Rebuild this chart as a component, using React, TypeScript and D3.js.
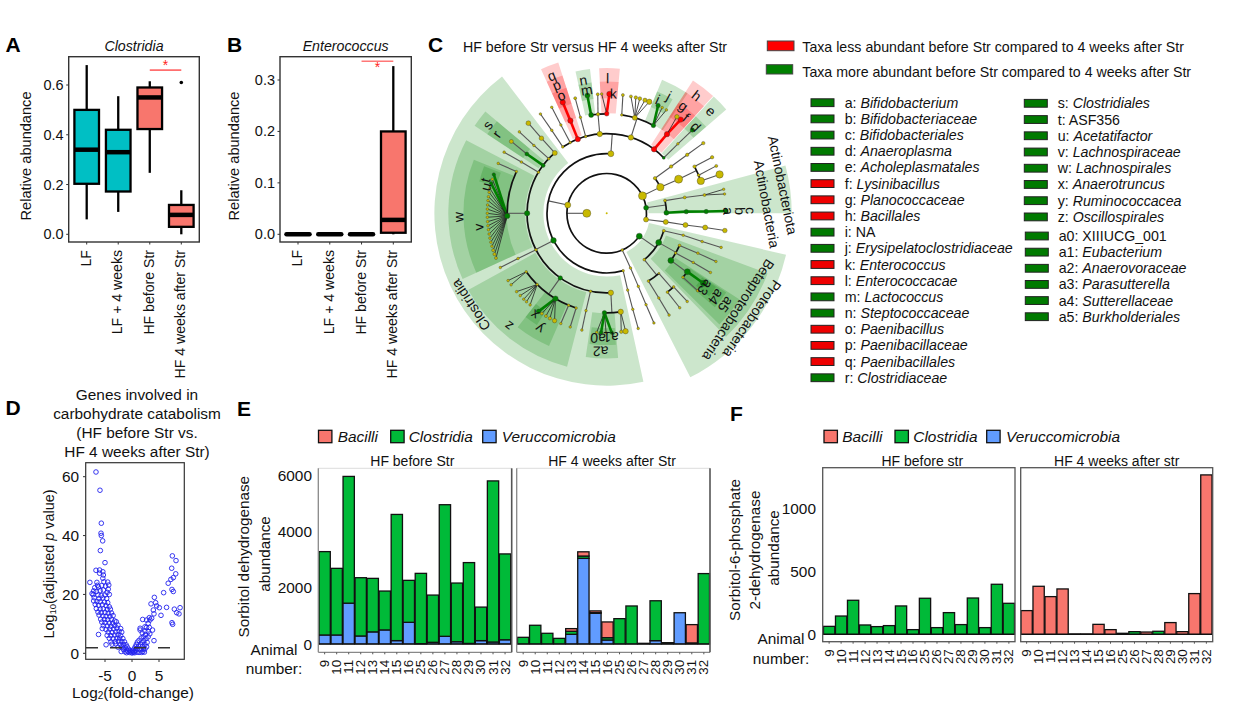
import * as d3 from "d3";

const FONT = "'Liberation Sans', Arial, sans-serif";
const SALMON = "#F8766D";
const TEAL = "#00BFC4";
const GREEN = "#00BA38";
const BLUE = "#619CFF";

// panels A and B
const boxGroups = ["LF", "LF + 4 weeks", "HF before Str", "HF 4 weeks after Str"];
const boxColors = [TEAL, TEAL, SALMON, SALMON];
// low, q1, median, q3, high
const clostridiaBoxes = [
  [0.06, 0.203, 0.34, 0.5, 0.68],
  [0.09, 0.172, 0.33, 0.42, 0.555],
  [0.247, 0.423, 0.55, 0.59, 0.615],
  [0.0, 0.03, 0.078, 0.118, 0.177],
];
const clostridiaOutliers = [[3, 0.61]];
const enterococcusBoxes = [
  [0, 0, 0, 0, 0],
  [0, 0, 0, 0, 0],
  [0, 0, 0, 0, 0],
  [0, 0.003, 0.028, 0.2, 0.327],
];

// panel D: log2 fold change, -log10 adjusted p
const volcanoPoints = [
  [-6.67, 61.6], [-5.93, 55.4], [-5.68, 44.2], [-5.74, 40.8], [-5.68, 40], [-5.43, 38.2], [-5.86, 34.9], [-5, 30.8],
  [-6.67, 28.2], [-6, 28.3], [-5.4, 27.7], [-6, 27.2], [-5.3, 26.6], [-7.8, 24.1], [-6.5, 24.1], [-5.4, 25.5],
  [-5.2, 24.3], [-4.5, 24.2], [-6.4, 23.1], [-4.3, 23.2], [-6.9, 22.3], [-6.2, 22.5], [-5.6, 23], [-4.9, 22.8],
  [-4.4, 21.8], [-7.1, 21.2], [-6.6, 21], [-5.9, 21.3], [-5.3, 21.5], [-4.6, 20.7], [-7.4, 20.3], [-7.2, 19.9],
  [-6.3, 19.8], [-5.7, 19.6], [-5, 19.8], [-4.2, 20], [-7, 18.9], [-6.1, 18.6], [-5.4, 18.8], [-4.7, 18.6],
  [-7.1, 17.8], [-6.5, 17.6], [-5.9, 17.5], [-5.1, 17.4], [-4.5, 17.2], [-6.8, 16.6], [-6.2, 16.3], [-5.5, 16.5],
  [-4.8, 16.2], [-4.2, 15.8], [-6.6, 15.2], [-5.9, 15], [-5.3, 15.1], [-4.6, 14.9], [-4, 15], [-6.3, 14],
  [-5.7, 13.8], [-5, 13.9], [-4.4, 13.6], [-3.8, 13.7], [-6.1, 13], [-5.4, 12.7], [-4.8, 12.6], [-4.1, 12.5],
  [-3.5, 12.8], [-5.8, 11.6], [-5.1, 11.5], [-4.5, 11.4], [-3.8, 11.6], [-3.2, 11], [-5.6, 10.6], [-5, 10.4],
  [-4.2, 10.3], [-3.6, 10.2], [-2.9, 10.7], [-5.3, 9.4], [-4.6, 9.3], [-3.9, 9.2], [-3.2, 9.4], [-2.6, 9.6],
  [-5.5, 8.4], [-4.8, 8.1], [-4.1, 8.2], [-3.4, 8.3], [-2.8, 8.6], [-2.1, 8.4], [-4.4, 7.2], [-3.7, 7.1],
  [-3, 7.3], [-2.4, 7.5], [-1.9, 7.2], [-6.2, 6.4], [-4.6, 6.1], [-3.9, 6], [-3.2, 6.2], [-2.6, 6.3],
  [-2.1, 6], [-4.2, 5.1], [-3.5, 5], [-2.8, 5.1], [-2.3, 5.2], [-1.7, 5], [-4.8, 2.9], [-3.9, 3.9],
  [-3.1, 4], [-2.5, 4.1], [-1.9, 4], [-1.4, 3.9], [-3.7, 3.1], [-3, 3.2], [-2.2, 3], [-1.6, 3],
  [-1.1, 2.9], [-2.6, 2.1], [-1.9, 2.2], [-1.3, 2], [-0.9, 2.2], [-1.6, 1.3], [-1, 1.2], [-0.6, 1.4],
  [-2, 0.6], [-1.3, 0.5], [-0.8, 0.7], [-0.4, 0.9], [-1, 0.2], [-0.5, 0.3], [-0.2, 0.5],
  [0, 0.1], [0.2, 0.3], [0.4, 0.6], [0.1, 0.9], [0.5, 0.2], [0.7, 1], [0.4, 1.5], [0.9, 0.4],
  [1, 1.6], [0.6, 2.2], [1.3, 0.3], [1.2, 2.4], [0.8, 3], [1.5, 1.2], [1.8, 0.3], [1.6, 2.9],
  [1, 3.8], [1.3, 4.4], [2, 0.6], [2.1, 1.4], [2, 2.4], [1.9, 3.6], [1.7, 5.2], [2.3, 0.4],
  [2.4, 1.5], [2.4, 3], [2.2, 4.3], [2.1, 5.6], [1.9, 6.9], [1.5, 7.9], [2.7, 2.2], [2.8, 3.7],
  [2.6, 5], [2.5, 6.3], [2.4, 7.5], [3, 5.6], [3, 7.4], [3.3, 6.6], [2.7, 8.8], [3.8, 7.9],
  [4.07, 4.3], [3.2, 8.8], [3, 10.2], [3.33, 11.3], [3.64, 11.9], [2.7, 11.3], [1.98, 11.5], [2.4, 9],
  [1.5, 8.5], [3.2, 12.1], [4.07, 13.4], [3.95, 14.7], [4.57, 16.1], [3.52, 16.8], [4.38, 17.2], [4.14, 19],
  [5.06, 15.5], [5.37, 12.9], [6.4, 15.6], [5.86, 20.6], [7.4, 21.7], [7.65, 21], [6.7, 23.8], [7.2, 25.1],
  [7.65, 25.7], [8.1, 27], [7.35, 28.9], [8.15, 31.5], [7.47, 33.1], [8.9, 15.5], [7.84, 15], [8.27, 13.8],
  [8.7, 13.4], [7.4, 10.4], [7.53, 9.85],
];

// panels E and F
const animals = ["9", "10", "11", "12", "13", "14", "15", "16", "25", "26", "27", "28", "29", "30", "31", "32"];
const sorbitolBeforeVeru = [320, 320, 1450, 285, 430, 500, 120, 770, 10, 60, 273, 80, 20, 120, 70, 150];
const sorbitolBeforeClost = [2960, 2366, 4500, 2069, 1900, 1380, 4480, 1490, 2498, 1677, 4672, 2084, 2870, 1190, 5720, 3048];
const sorbitolBeforeBacilli = [0, 0, 0, 0, 0, 0, 0, 0, 0, 0, 0, 0, 0, 0, 0, 0];
const sorbitolAfterVeru = [0, 0, 0, 0, 344, 3040, 1092, 142, 0, 0, 0, 119, 0, 1110, 0, 0];
const sorbitolAfterClost = [237, 665, 380, 200, 107, 83, 20, 83, 900, 1350, 24, 1416, 47, 0, 38, 2500];
const sorbitolAfterBacilli = [0, 0, 0, 0, 95, 150, 63, 558, 0, 0, 0, 0, 0, 0, 650, 0];
const s6pBeforeClost = [63, 145, 270, 74, 61, 69, 225, 37, 286, 53, 172, 77, 288, 53, 397, 246];
const s6pBeforeBacilli = [0, 0, 0, 0, 0, 0, 0, 0, 0, 0, 0, 0, 0, 0, 0, 0];
const s6pAfterClost = [0, 0, 0, 0, 0, 0, 0, 0, 0, 21, 0, 24, 0, 0, 0, 0];
const s6pAfterBacilli = [188, 381, 299, 360, 3, 3, 79, 37, 8, 0, 18, 0, 93, 21, 323, 1265];
const noVeru = [0, 0, 0, 0, 0, 0, 0, 0, 0, 0, 0, 0, 0, 0, 0, 0];

// panel C keys
const keyLeft = [
  ["a: ", "Bifidobacterium", "g"], ["b: ", "Bifidobacteriaceae", "g"], ["c: ", "Bifidobacteriales", "g"],
  ["d: ", "Anaeroplasma", "g"], ["e: ", "Acholeplasmatales", "g"], ["f: ", "Lysinibacillus", "r"],
  ["g: ", "Planococcaceae", "r"], ["h: ", "Bacillales", "r"], ["i: NA", "", "g"],
  ["j: ", "Erysipelatoclostridiaceae", "g"], ["k: ", "Enterococcus", "r"], ["l: ", "Enterococcacae", "r"],
  ["m: ", "Lactococcus", "g"], ["n: ", "Steptococcaceae", "g"], ["o: ", "Paenibacillus", "r"],
  ["p: ", "Paenibacillaceae", "r"], ["q: ", "Paenibacillales", "r"], ["r: ", "Clostridiaceae", "g"],
];
const keyRightTop = [
  ["s: ", "Clostridiales"], ["t: ASF356", ""], ["u: ", "Acetatifactor"], ["v: ", "Lachnospiraceae"],
  ["w: ", "Lachnospirales"], ["x: ", "Anaerotruncus"], ["y: ", "Ruminococcacea"], ["z: ", "Oscillospirales"],
];
const keyRightBottom = [
  ["a0: XIIIUCG_001", ""], ["a1: ", "Eubacterium"], ["a2: ", "Anaerovoraceae"],
  ["a3: ", "Parasutterella"], ["a4: ", "Sutterellaceae"], ["a5: ", "Burkholderiales"],
];

// cladogram wedges: start deg, end deg, inner level, outer level, colour
const cladeWedges = [
  [167.7, 322.6, 3.18, 8.66, "g"], [245.5, 297.5, 4.1, 7.96, "g"], [245.5, 292, 5.03, 7.2, "g"], [284, 291, 5.7, 6.6, "g"],
  [303.5, 310, 4.1, 7.96, "g"], [303.5, 310, 5.03, 7.2, "g"], [194.5, 241, 4.1, 7.96, "g"], [203.5, 218, 5.03, 7.27, "g"],
  [212, 218, 5.78, 6.62, "g"], [175.5, 188.3, 5.03, 7.3, "g"], [176, 182, 5.78, 6.62, "g"], [182, 187.5, 5.78, 6.62, "g"],
  [103, 153, 2.18, 9.25, "g"], [110.5, 136, 3.18, 8.63, "g"], [123, 134.6, 4.1, 7.96, "g"], [123.5, 131, 5.03, 7.2, "g"],
  [124, 129, 5.78, 6.62, "g"], [75, 90, 2.1, 9.3, "g"], [347.6, 353.4, 5.03, 7.3, "g"], [347.6, 353.4, 5.78, 6.62, "g"],
  [22.5, 34, 5.03, 7.27, "g"], [22.5, 30, 5.78, 6.62, "g"], [42.5, 49, 4.1, 7.96, "g"], [42.5, 49, 5.78, 6.62, "g"],
  [335.5, 342.2, 4.1, 7.96, "r"], [335.5, 342.2, 5.03, 7.27, "r"], [335.5, 342.2, 5.78, 6.62, "r"],
  [357, 365.2, 5.03, 7.3, "r"], [357, 365.2, 5.78, 6.62, "r"],
  [33, 42.2, 4.1, 7.96, "r"], [33, 42.2, 5.03, 7.27, "r"], [33, 42.2, 5.78, 6.62, "r"],
];

// cladogram nodes: id, parent, level, angle deg, dot radius, colour, thick link
const cladeNodes: [string, string, number, number, number, string, number?][] = [
  ["K", "", 1, 270, 4, "y"],
  ["a64", "K", 2, 424, 4, "y"],
  ["a54", "a64", 3, 414, 1.7, "y"], ["a54b", "a54", 4, 414, 1.7, "y"], ["a54c", "a54b", 5, 414, 1.7, "y"], ["a54d", "a54c", 6, 414, 1.7, "y"],
  ["a63", "a64", 3, 424, 3.7, "y"], ["a65", "a63", 4, 424.6, 4, "y"],
  ["a66", "a65", 5, 422, 1.7, "y"], ["a66l", "a66", 6, 422, 1.7, "y"],
  ["a67", "a65", 5, 427.5, 1.4, "y"], ["a67l", "a67", 6, 426.6, 1.5, "y"],
  ["a71", "a65", 5, 431, 3.7, "y"], ["a71l", "a71", 6, 431, 3.7, "y"],
  ["g82", "K", 2, 442, 2.5, "g"],
  ["g77", "g82", 3, 437.7, 1.5, "y"], ["g78", "g77", 4, 438.5, 1.5, "y"], ["g79", "g78", 5, 439.4, 1.5, "y"],
  ["g79a", "g79", 6, 438.4, 1.3, "y"], ["g79b", "g79", 6, 440.7, 1.3, "y"],
  ["c", "g82", 3, 449.4, 2.5, "g", 1], ["b", "c", 4, 448.8, 2.2, "g", 1], ["b5", "b", 5, 449, 2.2, "g", 1], ["a", "b5", 6, 448.9, 2.2, "g", 1],
  ["y99", "K", 2, 459, 2.5, "y"], ["y99b", "y99", 3, 458.3, 2.5, "y"], ["y99c", "y99b", 4, 458.4, 2.5, "y"], ["y99d", "y99c", 5, 458.2, 2.5, "y"], ["y99e", "y99d", 6, 458.3, 2.3, "y"],
  ["p125", "K", 2, 125, 3, "g"],
  ["p107", "p125", 3, 107, 1.5, "y"], ["p107b", "p107", 4, 106, 1.3, "y"], ["p107c", "p107b", 5, 106.5, 1.3, "y"], ["p107d", "p107c", 6, 106.6, 1.3, "y"],
  ["b119", "p125", 3, 119.4, 3, "g"],
  ["b114", "b119", 4, 113.8, 1.4, "y"], ["b114b", "b114", 5, 113.6, 1.3, "y"], ["b114c", "b114b", 6, 113.8, 1.3, "y"],
  ["b120", "b119", 4, 120, 1.3, "y"], ["b120b", "b120", 5, 119.6, 1.3, "y"], ["b120c", "b120b", 6, 119.7, 1.3, "y"],
  ["b126", "b119", 4, 126.3, 3, "g"], ["s126", "b126", 5, 125.9, 3, "g"], ["a3n", "s126", 6, 125.9, 3, "g", 1],
  ["s130", "b126", 5, 130, 1.3, "y"], ["s130b", "s130", 6, 130.4, 1.3, "y"],
  ["p141", "p125", 3, 141, 1.4, "y"],
  ["p139", "p141", 4, 139, 1, "y"], ["p138", "p139", 5, 137.7, 1.3, "y"], ["p138b", "p138", 6, 137.6, 1.3, "y"], ["p142", "p139", 5, 142.4, 1.3, "y"], ["p142b", "p142", 6, 142.3, 1.3, "y"],
  ["p148", "p141", 4, 148.4, 1.3, "y"], ["p148b", "p148", 5, 148.4, 1.3, "y"], ["p148c", "p148b", 6, 148.5, 1.3, "y"],
  ["l157", "K", 2, 157, 1.3, "y"], ["l157b", "l157", 3, 156.5, 1.3, "y"], ["l157c", "l157b", 4, 156.6, 1.3, "y"], ["l157d", "l157c", 5, 156.7, 1.3, "y"], ["l157e", "l157d", 6, 156.7, 1.3, "y"],
  ["n282", "K", 2, 282, 3, "y"],
  ["c164", "n282", 3, 164, 1.3, "y"], ["c164b", "c164", 4, 164.7, 1.3, "y"], ["c164c", "c164b", 5, 164.8, 1.3, "y"], ["c164d", "c164c", 6, 164.7, 1.3, "y"],
  ["clo", "n282", 3, 243, 2.8, "g"],
  ["c177", "clo", 4, 177, 2.7, "y"],
  ["c181", "c177", 5, 181.3, 2.3, "g"], ["l185", "c181", 6, 184.8, 1.3, "y"], ["a0n", "c181", 6, 182.7, 1.8, "g", 1], ["l180", "c181", 6, 180.3, 1.3, "y"], ["a1n", "c181", 6, 177.6, 1.8, "g", 1],
  ["c172", "c177", 5, 171.9, 2.7, "y"], ["l173", "c172", 6, 173, 1.7, "y"], ["l171", "c172", 6, 170.9, 2.7, "y"],
  ["c192", "clo", 4, 191.7, 1.3, "y"], ["c192b", "c192", 5, 192, 1.3, "y"], ["c192c", "c192b", 6, 192, 1.3, "y"],
  ["c216", "clo", 4, 215.7, 2.3, "g"],
  ["c234", "c216", 5, 234, 1.3, "y"], ["l236", "c234", 6, 235.7, 1.3, "y"], ["l233", "c234", 6, 233.2, 1.3, "y"],
  ["c224", "c216", 5, 224.3, 1.3, "y"], ["l229", "c224", 6, 229, 1.3, "y"], ["l226", "c224", 6, 226.4, 1.3, "y"], ["l224", "c224", 6, 224, 1.3, "y"], ["l222", "c224", 6, 222.2, 1.3, "y"], ["l220", "c224", 6, 219.9, 1.3, "y"],
  ["c211", "c216", 5, 211, 2.7, "g"], ["xn", "c211", 6, 214.8, 2.3, "g", 1], ["l213", "c211", 6, 212.9, 1.5, "y"], ["l211", "c211", 6, 210.6, 1.5, "y"], ["l208", "c211", 6, 208.4, 1.7, "y"], ["l206", "c211", 6, 205.9, 2.2, "y"],
  ["c202", "c216", 5, 202.5, 1.3, "y"], ["c202b", "c202", 6, 202.6, 1.3, "y"],
  ["c198", "c216", 5, 197.9, 1.3, "y"], ["c198b", "c198", 6, 197.8, 1.3, "y"],
  ["c243", "clo", 4, 242.7, 1.4, "y"], ["c243b", "c243", 5, 243, 1.3, "y"], ["c243c", "c243b", 6, 243, 1.3, "y"],
  ["c270", "clo", 4, 270, 2.7, "g"], ["vn", "c270", 5, 268.5, 2.7, "g"],
  ["tn", "vn", 6, 289, 1.7, "g", 1], ["f287", "vn", 6, 286.6, 1.3, "y"], ["un", "vn", 6, 284.6, 1.7, "g", 1],
  ["f282", "vn", 6, 282, 1.3, "y"], ["f280", "vn", 6, 280.1, 1.3, "y"], ["f278", "vn", 6, 278, 1.3, "y"], ["f276", "vn", 6, 276.1, 1.3, "y"],
  ["f274", "vn", 6, 274, 1.3, "y"], ["f272", "vn", 6, 272, 1.3, "y"], ["f270", "vn", 6, 270, 1.3, "y"], ["f268", "vn", 6, 268.1, 1.3, "y"],
  ["f266", "vn", 6, 266, 1.3, "y"], ["f264", "vn", 6, 264, 1.3, "y"], ["f262", "vn", 6, 262.1, 1.3, "y"], ["f260", "vn", 6, 260, 1.3, "y"],
  ["f258", "vn", 6, 258, 1.3, "y"], ["f256", "vn", 6, 256, 1.3, "y"], ["f254", "vn", 6, 254, 1.3, "y"], ["f252", "vn", 6, 252, 1.5, "y"],
  ["f250", "vn", 6, 250, 1.6, "y"], ["f248", "vn", 6, 248, 1.5, "y"],
  ["c295", "c270", 5, 294.8, 1.3, "y"], ["c295b", "c295", 6, 294.7, 1.3, "y"],
  ["c301", "clo", 4, 301, 1.3, "y"], ["c301b", "c301", 5, 301, 1.3, "y"], ["c301c", "c301b", 6, 300.8, 1.3, "y"],
  ["sn", "clo", 4, 307, 2, "g"], ["rn", "sn", 5, 306.6, 2, "g", 1], ["rl", "rn", 6, 307, 2, "y"],
  ["c313", "clo", 4, 313.3, 1.3, "y"], ["c313b", "c313", 5, 313, 1.3, "y"], ["c313c", "c313b", 6, 313, 1.3, "y"],
  ["c319", "clo", 4, 319.3, 2.5, "y"], ["c319b", "c319", 5, 319, 2.3, "y"], ["c319c", "c319b", 6, 319, 2.4, "y"],
  ["h364", "n282", 3, 364, 3, "y"],
  ["t326", "h364", 4, 326.5, 1.3, "y"], ["t326b", "t326", 5, 326.5, 1.3, "y"], ["t326c", "t326b", 6, 326.3, 1.3, "y"],
  ["t333", "h364", 4, 332.7, 1.3, "y"], ["t333b", "t333", 5, 332.6, 1.3, "y"], ["t333c", "t333b", 6, 332.6, 1.3, "y"],
  ["qn", "h364", 4, 338.7, 2.7, "r"], ["pn", "qn", 5, 338.6, 2.7, "r", 1], ["on", "pn", 6, 338.4, 2.7, "r", 1],
  ["t345", "h364", 4, 344.7, 1.3, "y"], ["t345b", "t345", 5, 344.7, 1.3, "y"], ["t345c", "t345b", 6, 344.7, 1.5, "y"],
  ["t355", "h364", 4, 355, 2.7, "y"],
  ["nn", "t355", 5, 351, 2.5, "g"], ["mn", "nn", 6, 350.7, 2.5, "g", 1],
  ["t355b", "t355", 5, 355, 1.7, "y"], ["t355c", "t355b", 6, 355.7, 1.5, "y"],
  ["ln", "t355", 5, 360, 2.3, "r"], ["kn", "ln", 6, 361.3, 2.7, "r", 1], ["lb", "ln", 6, 357.6, 1.3, "y"],
  ["t378", "h364", 4, 377.7, 2.7, "y"],
  ["t369", "t378", 5, 368.7, 1.3, "y"], ["t369b", "t369", 6, 367.8, 1.5, "y"],
  ["t376", "t378", 5, 376.4, 2.5, "y"], ["l372", "t376", 6, 371.7, 1.5, "y"], ["l374", "t376", 6, 374.1, 1.7, "y"], ["l376", "t376", 6, 376.1, 1.9, "y"], ["l379", "t376", 6, 378.7, 2.1, "y"], ["l381", "t376", 6, 380.9, 2.7, "y"],
  ["jn", "t378", 5, 388, 2.3, "g"], ["in", "jn", 6, 385.5, 2.2, "g", 1], ["l388", "jn", 6, 387.7, 1.3, "y"], ["l390", "jn", 6, 390, 1.3, "y"],
  ["hn", "h364", 4, 396.5, 2.7, "r"], ["gn", "hn", 5, 397.3, 2.7, "r", 1], ["fn", "gn", 6, 398.3, 2.7, "r", 1], ["gb", "gn", 6, 396, 2.2, "y"],
  ["en", "h364", 4, 405.8, 1.5, "g"], ["e5", "en", 5, 405.7, 1.3, "y"], ["dn", "e5", 6, 405.8, 2.2, "g"],
];
const fanParents = ["g79", "c181", "c172", "c234", "c224", "c211", "vn", "t376", "jn", "ln", "gn"];

// cladogram labels: text, level position, angle, rotation
const cladeLabels: [string, number, number, number][] = [
  ["a", 6.11, 89, 89], ["b", 6.7, 89, 89], ["c", 7.24, 89, 89], ["d", 6.25, 45.8, 45.8], ["e", 7.34, 45.6, 45.6],
  ["f", 6.26, 39.6, 38], ["g", 6.63, 35.5, 37], ["h", 7.44, 37.4, 37.4], ["i", 6.28, 24.1, 24.1], ["j", 6.68, 27.9, 27.9],
  ["k", 6.03, 3.2, 1], ["l", 6.78, 0.4, 0.4], ["m", 6.28, -9.2, -9.2], ["n", 6.8, -10, -10], ["o", 6.35, -21.2, -21.2],
  ["p", 6.92, -21.3, -21.3], ["q", 7.45, -21.8, -21.8], ["r", 6.82, 305.8, 305.8], ["s", 7.45, 306.6, 306.6],
  ["t", 6.33, 285.3, 285.3], ["u", 6.23, 282.4, 285.3], ["v", 6.48, 263.8, 268], ["w", 7.45, 268.5, 268.5],
  ["x", 6.26, 215.4, 214], ["y", 6.72, 210.2, 212], ["z", 7.52, 221, 217],
  ["a0", 6.3, 184, 182], ["a1", 6.23, 178, 180], ["a2", 6.95, 182.5, 181],
  ["a3", 6.2, 127, 127], ["a4", 6.92, 127.4, 127], ["a5", 7.54, 127.5, 127],
  ["Clostridia", 8.24, 236, 236], ["Actinobacteriota", 8.96, 80.9, 78.5], ["Actinobacteria", 8.06, 86.7, 79.5],
  ["Proteobacteria", 9.03, 126, 124.8], ["Betaproteobacteria", 8.21, 126.3, 123.4],
];

const T = ({ x, y, size = 14, anchor = "middle", rotate, weight, italic, children }: any) => (
  <text
    x={x}
    y={y}
    fontSize={size}
    textAnchor={anchor}
    dominantBaseline="central"
    fontFamily={FONT}
    fontWeight={weight}
    fontStyle={italic ? "italic" : undefined}
    fill="#111"
    transform={rotate !== undefined ? `rotate(${rotate} ${x} ${y})` : undefined}
  >
    {children}
  </text>
);

const PanelLetter = ({ x, y, children }: any) => (
  <text x={x} y={y} fontSize={21} fontWeight="bold" fontFamily={FONT} fill="#000">
    {children}
  </text>
);

const BoxPanel = ({ left, right, title, boxes, outliers = [], yMax, y0, yTop, ticks, labelX, sig }: any) => {
  const top = 56.7;
  const bottom = 242;
  const x = d3.scalePoint<string>().domain(boxGroups).range([left + 18, right - 18]);
  const y = d3.scaleLinear().domain([0, yMax]).range([y0, yTop]);
  return (
    <g>
      <T x={(left + right) / 2} y={46} size={14.2} italic>{title}</T>
      {boxes.map((b: number[], i: number) => {
        const cx = x(boxGroups[i]) as number;
        const flat = b[4] === 0;
        return (
          <g key={i}>
            {flat ? (
              <line x1={cx - 11.5} x2={cx + 11.5} y1={y(0)} y2={y(0)} stroke="#000" strokeWidth={4.5} strokeLinecap="round" />
            ) : (
              <>
                <line x1={cx} x2={cx} y1={y(b[0])} y2={y(b[4])} stroke="#000" strokeWidth={2.3} />
                <rect x={cx - 12.3} width={24.6} y={y(b[3])} height={y(b[1]) - y(b[3])} fill={boxColors[i]} stroke="#000" strokeWidth={2.3} />
                <line x1={cx - 12.3} x2={cx + 12.3} y1={y(b[2])} y2={y(b[2])} stroke="#000" strokeWidth={4.5} />
              </>
            )}
          </g>
        );
      })}
      {outliers.map(([i, v]: number[]) => (
        <circle key={i} cx={x(boxGroups[i])} cy={y(v)} r={1.8} fill="#000" />
      ))}
      <line x1={x(boxGroups[2])} x2={x(boxGroups[3])} y1={y(sig.line)} y2={y(sig.line)} stroke={sig.color} strokeWidth={sig.width} />
      <T x={((x(boxGroups[2]) as number) + (x(boxGroups[3]) as number)) / 2} y={y(sig.star)} size={14} ><tspan fill="#f22">*</tspan></T>
      <rect x={left} y={top} width={right - left} height={bottom - top} fill="none" stroke="#333" strokeWidth={1.4} />
      {ticks.map((t: number) => (
        <g key={t}>
          <line x1={left - 2.5} x2={left} y1={y(t)} y2={y(t)} stroke="#333" />
          <T x={left - 5} y={y(t)} size={14.5} anchor="end">{t.toFixed(1)}</T>
        </g>
      ))}
      {boxGroups.map((g) => (
        <g key={g}>
          <line x1={x(g)} x2={x(g)} y1={bottom} y2={bottom + 2.5} stroke="#333" />
          <T x={(x(g) as number) - 1} y={bottom + 8} size={14.1} anchor="end" rotate={-90}>{g}</T>
        </g>
      ))}
      <T x={labelX} y={156} size={14.6} rotate={-90}>Relative abundance</T>
    </g>
  );
};

const Volcano = () => {
  const x = d3.scaleLinear().domain([-5, 5]).range([105, 159]);
  const y = d3.scaleLinear().domain([0, 60]).range([653.3, 476.7]);
  return (
    <g>
      {["Genes involved in", "carbohydrate catabolism", "(HF before Str vs.", "HF 4 weeks after Str)"].map((s, i) => (
        <T key={s} x={137} y={[394, 413, 432.5, 451][i]} size={15.4}>{s}</T>
      ))}
      {volcanoPoints.map((p, i) => (
        <circle key={i} cx={x(p[0])} cy={y(p[1])} r={2.3} fill="none" stroke="#2222ee" strokeWidth={0.9} />
      ))}
      <line x1={86} x2={172.5} y1={y(1.9)} y2={y(1.9)} stroke="#333" strokeWidth={1.4} strokeDasharray="12 12" />
      <rect x={85.7} y={462.7} width={98.6} height={196.6} fill="none" stroke="#333" strokeWidth={1.2} />
      {[0, 20, 40, 60].map((t) => (
        <g key={t}>
          <line x1={83} x2={85.7} y1={y(t)} y2={y(t)} stroke="#333" />
          <T x={79} y={y(t)} size={15.4} anchor="end">{t}</T>
        </g>
      ))}
      {[-5, 0, 5].map((t) => (
        <g key={t}>
          <line x1={x(t)} x2={x(t)} y1={659.3} y2={662} stroke="#333" />
          <T x={x(t)} y={675} size={15.4}>{t}</T>
        </g>
      ))}
      <T x={133} y={692} size={15.4}>Log<tspan fontSize={10} dy={3}>2</tspan><tspan dy={-3}>(fold-change)</tspan></T>
      <T x={49} y={564} size={14.4} rotate={-90}>Log<tspan fontSize={9.5} dy={3}>10</tspan><tspan dy={-3}>(adjusted </tspan><tspan fontStyle="italic">p</tspan> value)</T>
    </g>
  );
};

const StackFacet = ({ left, right, x0, x1, top, bottom, y, veru, clost, bacilli, title, titleX, box }: any) => {
  const x = d3.scaleBand<string>().domain(animals).range([x0, x1]).paddingInner(0.06);
  const rows = animals.map((a, i) => ({ a, veru: veru[i], clost: clost[i], bacilli: bacilli[i] }));
  const series = d3.stack<any>().keys(["veru", "clost", "bacilli"])(rows);
  const fills: any = { veru: BLUE, clost: GREEN, bacilli: SALMON };
  return (
    <g>
      <T x={titleX} y={461.2} size={14}>{title}</T>
      {series.map((s) =>
        s.map((d, i) =>
          d[1] - d[0] > 0 ? (
            <rect
              key={s.key + i}
              x={x(animals[i])}
              width={x.bandwidth()}
              y={y(d[1])}
              height={y(d[0]) - y(d[1])}
              fill={fills[s.key]}
              stroke="#111"
              strokeWidth={1.3}
            />
          ) : null
        )
      )}
      <line x1={left} x2={right} y1={y(0)} y2={y(0)} stroke="#111" strokeWidth={1.2} />
      {box ? (
        <rect x={left} y={top} width={right - left} height={bottom - top} fill="none" stroke="#555" strokeWidth={1.3} />
      ) : (
        <>
          <line x1={left} x2={right} y1={top} y2={top} stroke="#ddd" strokeWidth={1} />
          <line x1={left} x2={right} y1={bottom} y2={bottom} stroke="#888" strokeWidth={1.3} />
          <line x1={left} x2={left} y1={top} y2={bottom} stroke="#888" strokeWidth={1.3} />
          <line x1={right} x2={right} y1={top} y2={bottom} stroke="#555" strokeWidth={1.6} />
        </>
      )}
      {animals.map((a) => {
        const cx = (x(a) as number) + x.bandwidth() / 2;
        return (
          <g key={a}>
            <line x1={cx} x2={cx} y1={bottom} y2={bottom + 2} stroke="#555" />
            <T x={cx} y={bottom + 7.5} size={13.4} anchor="end" rotate={-90}>{a}</T>
          </g>
        );
      })}
    </g>
  );
};

const StackLegend = ({ items }: any) => (
  <g>
    {items.map(([label, fill, sx, tx]: any) => (
      <g key={label}>
        <rect x={sx} y={430.3} width={13.4} height={12.4} fill={fill} stroke="#111" strokeWidth={1.3} />
        <T x={tx} y={436} size={15.4} anchor="start" italic>{label}</T>
      </g>
    ))}
  </g>
);

const Cladogram = () => {
  const cx = 606.7;
  const cy = 213.3;
  const r = d3.scaleLinear().domain([0, 6]).range([0, 119.4]);
  const rad = (d: number) => (d * Math.PI) / 180;
  const at = (level: number, deg: number) => {
    const [px, py] = d3.pointRadial(rad(deg), r(level));
    return [cx + px, cy + py];
  };
  const byId = new Map(cladeNodes.map((n) => [n[0], n]));
  const kids = d3.group(cladeNodes.filter((n) => n[1]), (n) => n[1]);
  const arc = d3.arc<any>();
  const colour: any = { y: "#c8b900", g: "#008000", r: "#ff0000" };
  const links: any[] = [];
  const arcs: any[] = [];
  kids.forEach((children, pid) => {
    const p = byId.get(pid)!;
    const fan = fanParents.includes(pid);
    if (fan || children.length === 1) {
      children.forEach((c) => links.push({ from: at(p[2], p[3]), to: at(c[2], c[3]), thick: c[6], col: c[5], fan }));
    } else {
      const lvl = children[0][2];
      links.push({ from: at(p[2], p[3]), to: at(lvl, p[3]), fan: false });
      const angles = children.map((c) => c[3]).concat(p[3]);
      arcs.push({ lvl, a0: d3.min(angles), a1: d3.max(angles) });
    }
  });
  return (
    <g>
      <T x={595} y={47.3} size={14.2}>HF before Str versus HF 4 weeks after Str</T>
      <g transform={`translate(${cx},${cy})`}>
        {cladeWedges.map(([a0, a1, i0, i1, c]: any, i) => (
          <path
            key={i}
            d={arc({ innerRadius: r(i0), outerRadius: r(i1), startAngle: rad(a0), endAngle: rad(a1) }) as string}
            fill={c === "g" ? "#008000" : "#ff0000"}
            fillOpacity={0.2}
          />
        ))}
      </g>
      {links.map((l, i) => (
        <line
          key={i}
          x1={l.from[0]}
          y1={l.from[1]}
          x2={l.to[0]}
          y2={l.to[1]}
          stroke={l.thick ? colour[l.col] : l.fan ? "#222" : "#555"}
          strokeWidth={l.thick ? 2.6 : l.fan ? 0.8 : 1.1}
        />
      ))}
      <g transform={`translate(${cx},${cy})`}>
        {arcs.map((a, i) => (
          <path
            key={i}
            d={arc({ innerRadius: r(a.lvl), outerRadius: r(a.lvl), startAngle: rad(a.a0), endAngle: rad(a.a1) }) as string}
            fill="none"
            stroke="#111"
            strokeWidth={1.7}
          />
        ))}
      </g>
      <circle cx={cx} cy={cy} r={1} fill={colour.y} />
      {cladeNodes.map((n) => {
        const [px, py] = at(n[2], n[3]);
        return <circle key={n[0]} cx={px} cy={py} r={n[4]} fill={colour[n[5]]} stroke="#333" strokeOpacity={0.6} strokeWidth={0.6} />;
      })}
      {cladeLabels.map(([s, lvl, ang, rot]) => {
        const [px, py] = at(lvl, ang);
        return <T key={s} x={px} y={py} size={14} rotate={rot}>{s}</T>;
      })}
    </g>
  );
};

const KeyRows = ({ rows, sx, tx, yStart, step }: any) => (
  <g>
    {rows.map((row: string[], i: number) => {
      const y = d3.scaleLinear().domain([0, 1]).range([yStart, yStart + step])(i);
      return (
        <g key={row[0]}>
          <rect x={sx} y={y - 3.9} width={23} height={7.8} fill={row[2] === "r" ? "#ee0000" : "#007a00"} stroke="#222" strokeWidth={1} />
          <T x={tx} y={y} size={14.2} anchor="start">
            {row[0]}
            {row[1] ? <tspan fontStyle="italic">{row[1]}</tspan> : null}
          </T>
        </g>
      );
    })}
  </g>
);

export default function App() {
  const yE = d3.scaleLinear().domain([0, 6000]).range([644, 475]);
  const yF = d3.scaleLinear().domain([0, 1000]).range([634.3, 508.3]);
  return (
    <svg width={1252} height={714} style={{ position: "absolute", left: 0, top: 0, background: "#fff" }}>
      <PanelLetter x={5.5} y={52}>A</PanelLetter>
      <PanelLetter x={227} y={52}>B</PanelLetter>
      <PanelLetter x={428} y={52}>C</PanelLetter>
      <PanelLetter x={5.5} y={415}>D</PanelLetter>
      <PanelLetter x={237} y={416}>E</PanelLetter>
      <PanelLetter x={730} y={421}>F</PanelLetter>

      <BoxPanel
        left={68.7}
        right={199.3}
        title="Clostridia"
        boxes={clostridiaBoxes}
        outliers={clostridiaOutliers}
        yMax={0.6}
        y0={234.3}
        yTop={85}
        ticks={[0, 0.2, 0.4, 0.6]}
        labelX={26}
        sig={{ line: 0.66, star: 0.68, color: "#f00", width: 1 }}
      />
      <BoxPanel
        left={280}
        right={411.3}
        title="Enterococcus"
        boxes={enterococcusBoxes}
        yMax={0.3}
        y0={234.3}
        yTop={80}
        ticks={[0, 0.1, 0.2, 0.3]}
        labelX={234}
        sig={{ line: 0.3364, star: 0.326, color: "#f77", width: 1.6 }}
      />

      <Cladogram />
      <rect x={767.3} y={41} width={26.7} height={9.7} fill="#ff0000" stroke="#444" strokeWidth={1} />
      <T x={802.3} y={47.3} size={14.2} anchor="start">Taxa less abundant before Str compared to 4 weeks after Str</T>
      <rect x={766.3} y={64.7} width={26.4} height={9.3} fill="#008000" stroke="#444" strokeWidth={1} />
      <T x={802.3} y={72} size={14.2} anchor="start">Taxa more abundant before Str compared to 4 weeks after Str</T>
      <KeyRows rows={keyLeft} sx={811} tx={844.7} yStart={102.7} step={16.18} />
      <KeyRows rows={keyRightTop} sx={1024.3} tx={1057.7} yStart={103.3} step={16.23} />
      <KeyRows rows={keyRightBottom} sx={1025.3} tx={1058.7} yStart={236} step={16.14} />

      <Volcano />

      <StackLegend items={[["Bacilli", SALMON, 318.5, 337.7], ["Clostridia", GREEN, 390.7, 408.7], ["Veruccomicrobia", BLUE, 482.7, 501.7]]} />
      <StackFacet left={318.3} right={511.7} x0={319} x1={510.7} top={468.3} bottom={652.3} y={yE} veru={sorbitolBeforeVeru} clost={sorbitolBeforeClost} bacilli={sorbitolBeforeBacilli} title="HF before Str" titleX={412.3} />
      <StackFacet left={516.7} right={710} x0={517.5} x1={709.5} top={468.3} bottom={652.3} y={yE} veru={sorbitolAfterVeru} clost={sorbitolAfterClost} bacilli={sorbitolAfterBacilli} title="HF 4 weeks after Str" titleX={612} />
      {[0, 2000, 4000, 6000].map((t) => (
        <T key={t} x={312} y={yE(t)} size={15.4} anchor="end">{t}</T>
      ))}
      <T x={274} y={649} size={15.4}>Animal</T>
      <T x={274} y={668} size={15.4}>number:</T>
      <T x={244} y={556.7} size={15.3} rotate={-90}>Sorbitol dehydrogenase</T>
      <T x={264} y={554} size={15.3} rotate={-90}>abundance</T>

      <StackLegend items={[["Bacilli", SALMON, 824, 842.3], ["Clostridia", GREEN, 895, 913.3], ["Veruccomicrobia", BLUE, 986.7, 1006]]} />
      <StackFacet box left={822.7} right={1015} x0={823.5} x1={1014.5} top={467.7} bottom={641.7} y={yF} veru={noVeru} clost={s6pBeforeClost} bacilli={s6pBeforeBacilli} title="HF before str" titleX={922.3} />
      <StackFacet box left={1020.7} right={1212.7} x0={1021} x1={1212} top={467.7} bottom={641.7} y={yF} veru={noVeru} clost={s6pAfterClost} bacilli={s6pAfterBacilli} title="HF 4 weeks after str" titleX={1116.7} />
      {[0, 500, 1000].map((t) => (
        <T key={t} x={816} y={yF(t)} size={15.4} anchor="end">{t}</T>
      ))}
      <T x={781} y={638.3} size={15.4}>Animal</T>
      <T x={781} y={658.3} size={15.4}>number:</T>
      <T x={734} y={550} size={15.3} rotate={-90}>Sorbitol-6-phosphate</T>
      <T x={754} y={550} size={15.3} rotate={-90}>2-dehydrogenase</T>
      <T x={773.3} y={548} size={15.3} rotate={-90}>abundance</T>
    </svg>
  );
}
